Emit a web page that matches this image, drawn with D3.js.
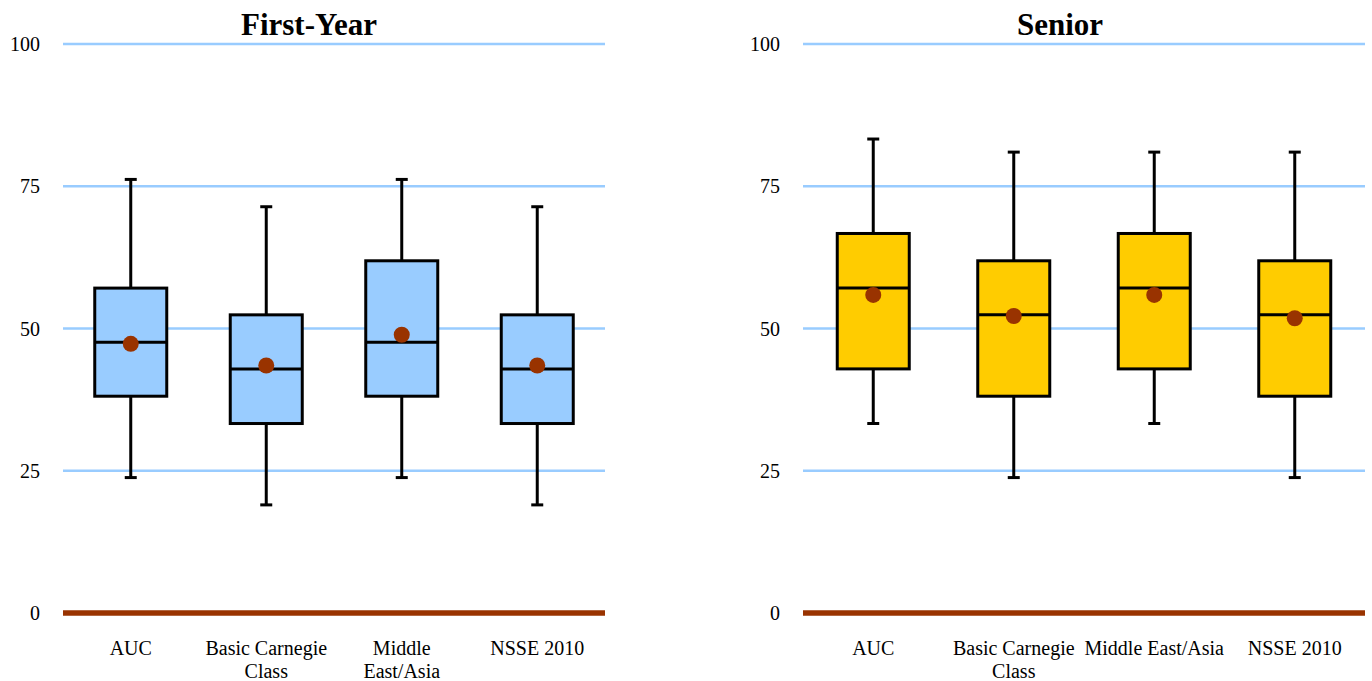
<!DOCTYPE html>
<html><head><meta charset="utf-8">
<script src="https://cdn.jsdelivr.net/npm/d3@7"></script>
<style>body{margin:0;background:#fff}svg{display:block}text{font-family:"Liberation Serif","Times New Roman",serif}</style>
</head><body><svg id="c" width="1372" height="681"></svg>
<script>
const categories = ["AUC", "Basic Carnegie Class", "Middle East/Asia", "NSSE 2010"];
const yTicks = [0, 25, 50, 75, 100];
// First-Year: [whiskerLow, q1, median, q3, whiskerHigh], mean
const fyLow    = [23.8, 19.0, 23.8, 19.0];
const fyQ1     = [38.1, 33.3, 38.1, 33.3];
const fyMedian = [47.6, 42.9, 47.6, 42.9];
const fyQ3     = [57.1, 52.4, 61.9, 52.4];
const fyHigh   = [76.2, 71.4, 76.2, 71.4];
const fyMean   = [47.3, 43.5, 48.9, 43.5];
// Senior
const srLow    = [33.3, 23.8, 33.3, 23.8];
const srQ1     = [42.9, 38.1, 42.9, 38.1];
const srMedian = [57.1, 52.4, 57.1, 52.4];
const srQ3     = [66.7, 61.9, 66.7, 61.9];
const srHigh   = [83.3, 81.0, 81.0, 81.0];
const srMean   = [55.9, 52.2, 55.9, 51.8];

const svg = d3.select("#c");
const panels = [
  {title:"First-Year", x0:63, x1:605, labelX:40, titleX:309, fill:"#99CCFF",
   low:fyLow,q1:fyQ1,med:fyMedian,q3:fyQ3,high:fyHigh,mean:fyMean},
  {title:"Senior", x0:803, x1:1365, labelX:780, titleX:1060, fill:"#FFCC00",
   low:srLow,q1:srQ1,med:srMedian,q3:srQ3,high:srHigh,mean:srMean}
];
const y = d3.scaleLinear().domain([0,100]).range([613,44]);

function wrap(sel, width){
  sel.each(function(){
    const t = d3.select(this), words = t.text().split(/\s+/), x = t.attr("x");
    t.text(null);
    let line = [], ts = t.append("tspan").attr("x", x).attr("dy", 0);
    for (const w of words){
      line.push(w); ts.text(line.join(" "));
      if (ts.node().getComputedTextLength() > width && line.length > 1){
        line.pop(); ts.text(line.join(" "));
        line = [w];
        ts = t.append("tspan").attr("x", x).attr("dy", "1.15em").text(w);
      }
    }
  });
}

panels.forEach(p => {
  const g = svg.append("g");
  const x = d3.scaleBand().domain(categories).range([p.x0, p.x1]);
  g.selectAll("line.grid").data(yTicks.filter(d=>d>0)).join("line")
    .attr("x1", p.x0).attr("x2", p.x1).attr("y1", d=>y(d)).attr("y2", d=>y(d))
    .attr("stroke", "#99CCFF").attr("stroke-width", 2.5);
  g.selectAll("text.yt").data(yTicks).join("text")
    .attr("x", p.labelX).attr("y", d=>y(d)).attr("dy","0.35em")
    .attr("text-anchor","end").attr("font-size", 20).attr("fill","#000").text(d=>d);
  g.append("line").attr("x1", p.x0).attr("x2", p.x1).attr("y1", y(0)).attr("y2", y(0))
    .attr("stroke", "#993300").attr("stroke-width", 5.5);
  g.append("text").attr("x", p.titleX).attr("y", 35).attr("text-anchor","middle")
    .attr("font-size", 31).attr("font-weight","bold").text(p.title);
  const bw = 72, cap = 12;
  categories.forEach((c,i) => {
    const cx = x(c) + x.bandwidth()/2;
    const bg = g.append("g");
    bg.append("line").attr("x1",cx).attr("x2",cx).attr("y1",y(p.high[i])).attr("y2",y(p.q3[i]))
      .attr("stroke","#000").attr("stroke-width",3);
    bg.append("line").attr("x1",cx).attr("x2",cx).attr("y1",y(p.q1[i])).attr("y2",y(p.low[i]))
      .attr("stroke","#000").attr("stroke-width",3);
    [p.high[i], p.low[i]].forEach(v => bg.append("line").attr("x1",cx-cap/2).attr("x2",cx+cap/2)
      .attr("y1",y(v)).attr("y2",y(v)).attr("stroke","#000").attr("stroke-width",3));
    bg.append("rect").attr("x",cx-bw/2).attr("width",bw).attr("y",y(p.q3[i]))
      .attr("height",y(p.q1[i])-y(p.q3[i])).attr("fill",p.fill).attr("stroke","#000").attr("stroke-width",3);
    bg.append("line").attr("x1",cx-bw/2).attr("x2",cx+bw/2).attr("y1",y(p.med[i])).attr("y2",y(p.med[i]))
      .attr("stroke","#000").attr("stroke-width",3);
    bg.append("circle").attr("cx",cx).attr("cy",y(p.mean[i])).attr("r",8).attr("fill","#993300");
  });
  g.selectAll("text.cat").data(categories).join("text")
    .attr("x", d=>x(d)+x.bandwidth()/2).attr("y", 655)
    .attr("text-anchor","middle").attr("font-size",20).text(d=>d)
    .call(wrap, x.bandwidth()+2);
});
</script></body></html>
